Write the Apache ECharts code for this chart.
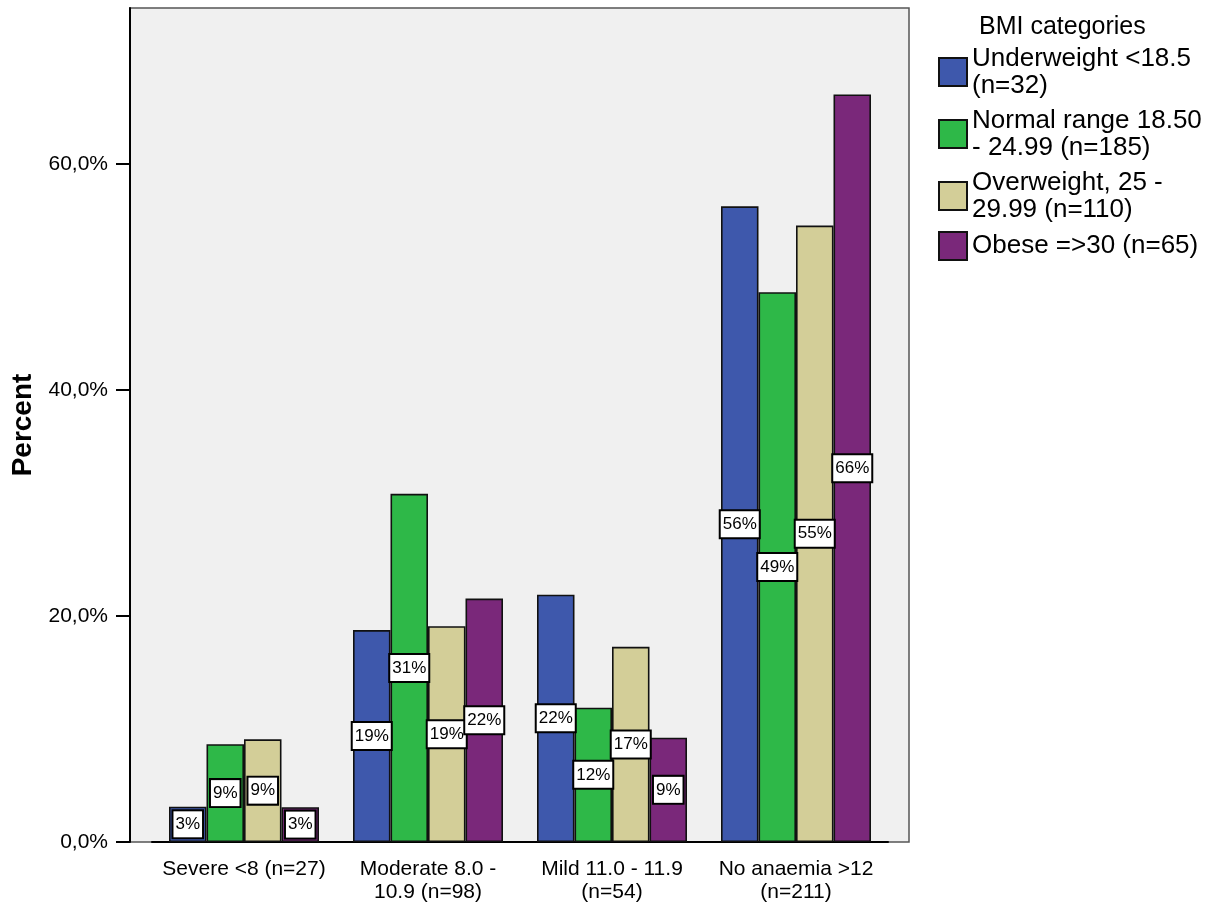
<!DOCTYPE html>
<html>
<head>
<meta charset="utf-8">
<script src="https://cdn.jsdelivr.net/npm/echarts@6/dist/echarts.min.js"></script>
<style>html,body{margin:0;padding:0;background:#fff}#c{width:1216px;height:910px}</style>
</head>
<body>
<div id="c"></div>
<script>
var categories = ['Severe <8 (n=27)', 'Moderate 8.0 -\n10.9 (n=98)', 'Mild 11.0 - 11.9\n(n=54)', 'No anaemia >12\n(n=211)'];
var seriesNames = ['Underweight <18.5\n(n=32)', 'Normal range 18.50\n- 24.99 (n=185)', 'Overweight, 25 -\n29.99 (n=110)', 'Obese =>30 (n=65)'];
var underweight = [3.13, 18.75, 21.88, 56.25];
var normalRange = [8.65, 30.81, 11.89, 48.65];
var overweight = [9.09, 19.09, 17.27, 54.55];
var obese = [3.08, 21.54, 9.23, 66.15];
var yTicks = [0, 20, 40, 60];
var colors = ['#3e58ac', '#2eb848', '#d3ce98', '#7a287a'];

var FONT = 'Liberation Sans, Arial, sans-serif';
var YMAX = 73.8;
var allValues = [underweight, normalRange, overweight, obese];

var chart = echarts.init(document.getElementById('c'), null, {renderer: 'canvas'});
var series = seriesNames.map(function (name, i) {
  return {
    name: name,
    type: 'bar',
    xAxisIndex: 1,
    yAxisIndex: 1,
    data: allValues[i],
    barWidth: 37.5,
    barGap: '0%',
    itemStyle: {color: colors[i], borderColor: '#111', borderWidth: 1.6},
    label: {
      show: true,
      position: 'inside',
      formatter: function (p) { return Math.round(p.value) + '%'; },
      backgroundColor: '#fff',
      borderColor: '#000',
      borderWidth: 2,
      padding: [5, 2, 4, 2],
      color: '#000',
      fontSize: 17,
      fontFamily: FONT
    },
    emphasis: {disabled: true}
  };
});

chart.setOption({
  animation: false,
  textStyle: {fontFamily: FONT},
  title: {
    text: 'BMI categories',
    left: 974, top: 10,
    textStyle: {fontSize: 25, fontWeight: 'normal', color: '#000', fontFamily: FONT}
  },
  legend: {
    orient: 'vertical',
    left: 933, top: 40,
    itemWidth: 28, itemHeight: 28,
    itemGap: 8,
    icon: 'rect',
    selectedMode: false,
    textStyle: {fontSize: 26, lineHeight: 27, color: '#000', fontFamily: FONT},
    data: seriesNames
  },
  grid: [
    {left: 130, right: 307, top: 8, bottom: 68, show: true, backgroundColor: '#f0f0f0', borderColor: '#555', borderWidth: 1.5, outerBoundsMode: 'none', containLabel: false},
    {left: 152, right: 328, top: 8, bottom: 68, outerBoundsMode: 'none', containLabel: false}
  ],
  xAxis: [
    {type: 'value', gridIndex: 0, show: false, min: 0, max: 1},
    {
      type: 'category', gridIndex: 1, data: categories, boundaryGap: true,
      axisLine: {lineStyle: {color: '#000', width: 2}},
      axisTick: {alignWithLabel: true, length: 13, lineStyle: {color: '#000', width: 2}},
      axisLabel: {fontSize: 21, lineHeight: 23, color: '#000', margin: 16, fontFamily: FONT, interval: 0}
    }
  ],
  yAxis: [
    {
      type: 'value', gridIndex: 0, min: 0, max: YMAX,
      name: 'Percent', nameLocation: 'middle', nameRotate: 90, nameGap: 93,
      nameTextStyle: {fontSize: 28, fontWeight: 'bold', color: '#000', fontFamily: FONT},
      axisLine: {show: true, lineStyle: {color: '#000', width: 2}},
      axisTick: {show: true, length: 14, customValues: yTicks, lineStyle: {color: '#000', width: 2}},
      axisLabel: {
        customValues: yTicks, fontSize: 21, color: '#000', margin: 22, fontFamily: FONT,
        formatter: function (v) { return v.toFixed(1).replace('.', ',') + '%'; }
      },
      splitLine: {show: false}
    },
    {type: 'value', gridIndex: 1, min: 0, max: YMAX, show: false, splitLine: {show: false}}
  ],
  series: series
});
</script>
</body>
</html>
